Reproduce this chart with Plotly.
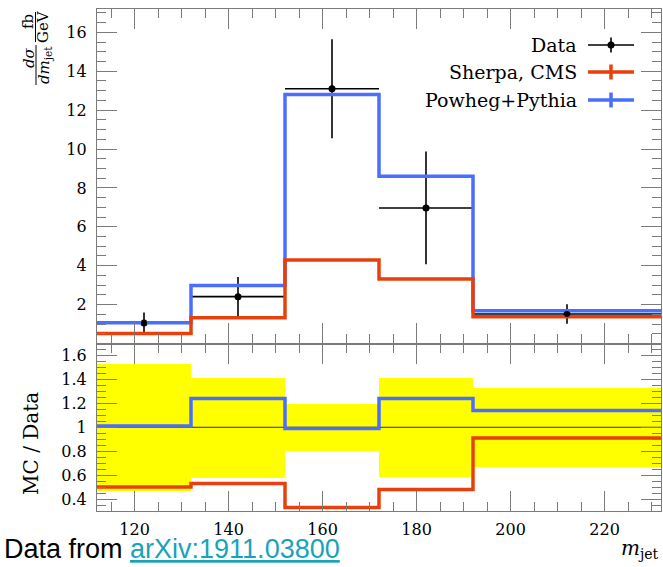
import plotly.graph_objects as go

# ---------------- data ----------------
bin_edges = [112, 132, 152, 172, 192, 232]
data_x = [122, 142, 162, 182, 212]
data_y = [1.05, 2.41, 13.10, 6.97, 1.52]
data_yerr = [0.55, 1.01, 2.55, 2.90, 0.50]
data_xerr = [10, 10, 10, 10, 20]
sherpa = [0.52, 1.32, 4.30, 3.32, 1.38]
powheg = [1.07, 2.98, 12.81, 8.60, 1.69]
ratio_sherpa = [0.50, 0.53, 0.33, 0.48, 0.91]
ratio_powheg = [1.01, 1.24, 0.99, 1.24, 1.14]
ratio_band = [0.53, 0.42, 0.196, 0.415, 0.33]

top_ticks = [2, 4, 6, 8, 10, 12, 14, 16]
ratio_ticks = [0.4, 0.6, 0.8, 1.0, 1.2, 1.4, 1.6]
ratio_ticktext = ["0.4", "0.6", "0.8", "1", "1.2", "1.4", "1.6"]
x_ticks = [120, 140, 160, 180, 200, 220]

RED = "#E8400C"
BLUE = "#4A6EFF"
YELLOW = "#FFFF00"
FRAME = "#7a7a7a"
SERIF = "DejaVu Serif"

# ---------------- geometry ----------------
W, H = 663, 567
L, R, T, B = 97, 2, 9, 56
PW, PH = W - L - R, H - T - B


def px(xp):
    return (xp - L) / PW


def py(yp):
    return (H - B - yp) / PH


split = py(343.5)

fig = go.Figure()


def step(vals):
    return list(vals) + [vals[-1]]


# ---- top panel ----
fig.add_trace(go.Scatter(x=data_x, y=data_y, mode="markers",
                         marker=dict(color="black", size=7),
                         error_y=dict(type="data", array=data_yerr, color="black", thickness=1.6, width=0),
                         error_x=dict(type="data", array=data_xerr, color="black", thickness=1.6, width=0),
                         xaxis="x", yaxis="y", name="Data", showlegend=False, hoverinfo="skip"))
fig.add_trace(go.Scatter(x=bin_edges, y=step(powheg), mode="lines", line_shape="hv",
                         line=dict(color=BLUE, width=3.5), xaxis="x", yaxis="y",
                         name="Powheg+Pythia", showlegend=False, hoverinfo="skip"))
fig.add_trace(go.Scatter(x=bin_edges, y=step(sherpa), mode="lines", line_shape="hv",
                         line=dict(color=RED, width=3.5), xaxis="x", yaxis="y",
                         name="Sherpa, CMS", showlegend=False, hoverinfo="skip"))
fig.add_trace(go.Scatter(x=data_x, y=data_y, mode="markers",
                         marker=dict(color="black", size=6),
                         xaxis="x", yaxis="y", showlegend=False, hoverinfo="skip"))

# ---- ratio panel ----
centers = [(a + b) / 2 for a, b in zip(bin_edges[:-1], bin_edges[1:])]
widths = [b - a for a, b in zip(bin_edges[:-1], bin_edges[1:])]
fig.add_trace(go.Bar(x=centers, y=[2 * e for e in ratio_band], base=[1 - e for e in ratio_band],
                     width=widths, marker=dict(color=YELLOW, line=dict(width=0)),
                     xaxis="x2", yaxis="y2", showlegend=False, hoverinfo="skip"))
fig.add_trace(go.Scatter(x=[bin_edges[0], bin_edges[-1]], y=[1, 1], mode="lines",
                         line=dict(color="black", width=0.8), xaxis="x2", yaxis="y2",
                         showlegend=False, hoverinfo="skip"))
fig.add_trace(go.Scatter(x=bin_edges, y=step(ratio_powheg), mode="lines", line_shape="hv",
                         line=dict(color=BLUE, width=3.5), xaxis="x2", yaxis="y2",
                         showlegend=False, hoverinfo="skip"))
fig.add_trace(go.Scatter(x=bin_edges, y=step(ratio_sherpa), mode="lines", line_shape="hv",
                         line=dict(color=RED, width=3.5), xaxis="x2", yaxis="y2",
                         showlegend=False, hoverinfo="skip"))

tickfont = dict(family=SERIF, size=16, color="black")
common = dict(showline=True, linecolor=FRAME, linewidth=1.2, mirror="ticks",
              ticks="inside", ticklen=20, tickwidth=1.2, tickcolor=FRAME,
              showgrid=False, zeroline=False, tickfont=tickfont)

fig.update_layout(
    width=W, height=H,
    margin=dict(l=L, r=R, t=T, b=B),
    paper_bgcolor="white", plot_bgcolor="white",
    bargap=0,
    xaxis=dict(domain=[0, 1], anchor="y", range=[bin_edges[0], bin_edges[-1]],
               tickvals=x_ticks, showticklabels=False,
               minor=dict(ticks="inside", ticklen=9, dtick=5, tick0=0, tickcolor=FRAME, tickwidth=1.2),
               **common),
    yaxis=dict(domain=[split, 1], anchor="x", range=[0, 17.2], tickvals=top_ticks,
               ticklabelstandoff=6,
               minor=dict(ticks="inside", ticklen=9, dtick=0.5, tick0=0, tickcolor=FRAME, tickwidth=1.2),
               **common),
    xaxis2=dict(domain=[0, 1], anchor="y2", range=[bin_edges[0], bin_edges[-1]],
                tickvals=x_ticks, ticklabelstandoff=4,
                minor=dict(ticks="inside", ticklen=9, dtick=5, tick0=0, tickcolor=FRAME, tickwidth=1.2),
                **common),
    yaxis2=dict(domain=[0, split], anchor="x2", range=[0.3, 1.7], tickvals=ratio_ticks,
                ticktext=ratio_ticktext, ticklabelstandoff=6,
                minor=dict(ticks="inside", ticklen=9, dtick=0.05, tick0=0, tickcolor=FRAME, tickwidth=1.2),
                **common),
)

annotations = []
shapes = []

# ---- legend (text right-aligned, sample on the right) ----
legend_items = [("Data", "black", 45), ("Sherpa, CMS", RED, 72), ("Powheg+Pythia", BLUE, 100)]
for label, color, yc in legend_items:
    annotations.append(dict(x=px(579), y=py(yc), xref="paper", yref="paper", text=label,
                            showarrow=False, xanchor="right", yanchor="middle",
                            font=dict(family=SERIF, size=19, color="black")))
    lw = 1.6 if color == "black" else 3.5
    shapes.append(dict(type="line", xref="paper", yref="paper", x0=px(588), x1=px(634),
                       y0=py(yc), y1=py(yc), line=dict(color=color, width=lw)))
    shapes.append(dict(type="line", xref="paper", yref="paper", x0=px(611), x1=px(611),
                       y0=py(yc - 7.5), y1=py(yc + 7.5), line=dict(color=color, width=lw)))
    if color == "black":
        shapes.append(dict(type="circle", xref="paper", yref="paper", x0=px(607.5), x1=px(614.5),
                           y0=py(yc + 3.5), y1=py(yc - 3.5), fillcolor="black",
                           line=dict(color="black", width=0)))

# ---- y axis title (fractions) ----
frac_font = dict(family=SERIF, size=15, color="black")
for txt, xc, yc in [("<i>dσ</i>", 29, 58), ("<i>dm</i><sub>jet</sub>", 44, 65),
                    ("fb", 28, 22), ("GeV", 43, 27)]:
    annotations.append(dict(x=px(xc), y=py(yc), xref="paper", yref="paper", text=txt,
                            showarrow=False, textangle=-90, xanchor="center", yanchor="middle",
                            font=frac_font))
shapes.append(dict(type="line", xref="paper", yref="paper", x0=px(36), x1=px(36),
                   y0=py(85), y1=py(45), line=dict(color="black", width=1)))
shapes.append(dict(type="line", xref="paper", yref="paper", x0=px(35.5), x1=px(35.5),
                   y0=py(42), y1=py(12), line=dict(color="black", width=1)))

annotations.append(dict(x=px(31), y=py(444), xref="paper", yref="paper", text="MC / Data",
                        showarrow=False, textangle=-90, xanchor="center", yanchor="middle",
                        font=dict(family=SERIF, size=20, color="black")))

# x title
annotations.append(dict(x=px(661), y=py(549), xref="paper", yref="paper",
                        text="<i>m</i><sub>jet</sub>", showarrow=False,
                        xanchor="right", yanchor="middle",
                        font=dict(family=SERIF, size=20, color="black")))

# source line
annotations.append(dict(x=px(2), y=py(549), xref="paper", yref="paper",
                        text="Data from <span style='color:#1AA3B8'><u>arXiv:1911.03800</u></span>",
                        showarrow=False, xanchor="left", yanchor="middle",
                        font=dict(family="Liberation Sans", size=27, color="black")))

fig.update_layout(annotations=annotations, shapes=shapes)

fig.write_html("out.html")
